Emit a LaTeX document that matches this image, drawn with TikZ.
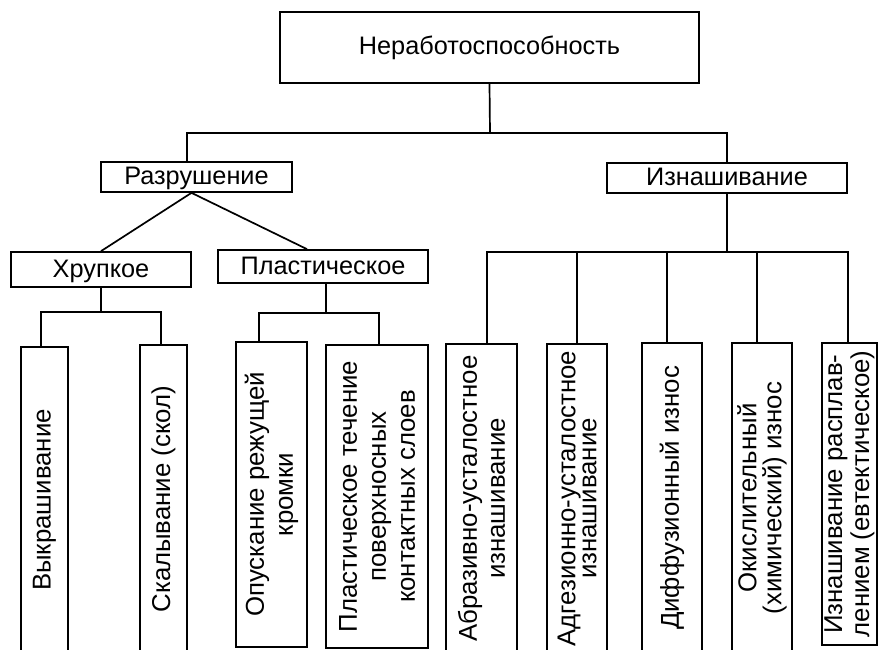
\documentclass[tikz,border=0pt]{standalone}
\usepackage{fontspec}
\setmainfont{Liberation Sans}
\tikzset{
  box/.style={draw, line width=1.7pt, rectangle, inner sep=1pt, align=center,
    font=\fontsize{25.3pt}{30pt}\selectfont},
  hbox/.style={box, text height=19pt, text depth=4pt},
  vbox/.style={box, rotate=90, font=\fontsize{25.8pt}{30pt}\selectfont},
  conn/.style={line width=1.7pt},
}
\begin{document}
\begin{tikzpicture}[x=1pt,y=-1pt]
\useasboundingbox (0,0) rectangle (878,650);
\clip (0,0) rectangle (878,650);
% upper levels
\node[hbox, minimum width=419pt, minimum height=71pt] (top) at (489.5,47.5) {Неработоспособность};
\node[hbox, minimum width=191pt, minimum height=30pt] (razr) at (196.5,177) {Разрушение};
\node[hbox, minimum width=240pt, minimum height=30pt] (izn) at (727,178) {Изнашивание};
\node[hbox, minimum width=180pt, minimum height=35pt] (khr) at (101,269.5) {Хрупкое};
\node[hbox, minimum width=210pt, minimum height=33pt] (pls) at (323,266.5) {Пластическое};
% vertical boxes (rotated: width = vertical extent)
\node[vbox, minimum width=306pt, minimum height=47pt] (vyk) at (44.5,500) {Выкрашивание};
\node[vbox, minimum width=308pt, minimum height=47pt] (skal) at (163.5,499) {Скалывание (скол)};
\node[vbox, minimum width=305pt, minimum height=71pt, font=\fontsize{25.8pt}{29pt}\selectfont] (opusk) at (271.5,494.5) {Опускание режущей\\кромки};
\node[vbox, minimum width=303pt, minimum height=102pt, font=\fontsize{25.8pt}{29pt}\selectfont] (plt) at (377,496.5) {Пластическое течение\\поверхносных\\контактных слоев};
\node[vbox, minimum width=309pt, minimum height=71pt, font=\fontsize{25.8pt}{28pt}\selectfont] (abr) at (481.5,498.5) {Абразивно-усталостное\\изнашивание};
\node[vbox, minimum width=309pt, minimum height=60pt, font=\fontsize{25.8pt}{21pt}\selectfont] (adg) at (577,498.5) {Адгезионно-усталостное\\изнашивание};
\node[vbox, minimum width=310pt, minimum height=60pt] (diff) at (672,498) {Диффузионный износ};
\node[vbox, minimum width=310pt, minimum height=60pt, font=\fontsize{25.8pt}{25pt}\selectfont] (okis) at (762,498) {Окислительный\\(химический) износ};
\node[vbox, minimum width=302pt, minimum height=55pt, font=\fontsize{25.8pt}{27pt}\selectfont] (rasp) at (849.5,494) {Изнашивание расплав-\\лением (евтектическое)};
% connectors
\coordinate (h1) at (490,133);
\draw[conn] (top.south) -- (h1);
\draw[conn] ([xshift=-9.5pt]razr.north) |- (h1) -| (izn.north);
\draw[conn] (khr.north) -- ([xshift=-5pt]razr.south) -- ([xshift=-16pt]pls.north);
\coordinate (k1) at (101,312);
\draw[conn] (khr.south) -- (k1);
\draw[conn] ([xshift=-3.5pt]vyk.east) |- (k1) -| ([xshift=-2.5pt]skal.east);
\coordinate (p1) at (326,313);
\draw[conn] ([xshift=3pt]pls.south) -- (p1);
\draw[conn] ([xshift=-12.5pt]opusk.east) |- (p1) -| ([xshift=2pt]plt.east);
\coordinate (w1) at (727,252);
\draw[conn] (izn.south) -- (w1);
\draw[conn] ([xshift=5.5pt]abr.east) |- (w1) -| ([xshift=-1.5pt]rasp.east);
\draw[conn] (adg.east) -- (adg.east |- w1);
\coordinate (d1) at ([xshift=-5pt]diff.east);
\draw[conn] (d1) -- (d1 |- w1);
\coordinate (o1) at ([xshift=-5pt]okis.east);
\draw[conn] (o1) -- (o1 |- w1);
\end{tikzpicture}
\end{document}
